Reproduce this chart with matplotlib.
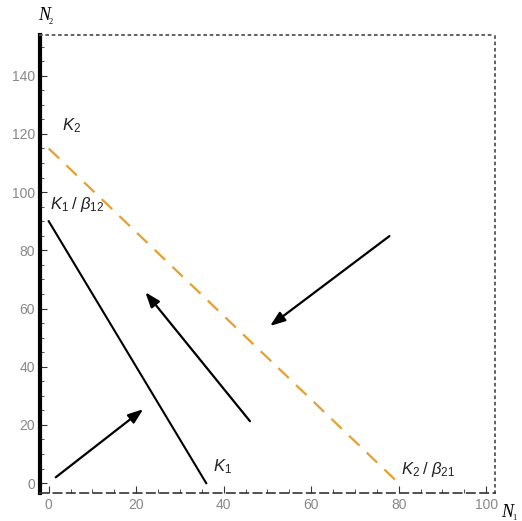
import matplotlib
matplotlib.use("Agg")
import matplotlib.pyplot as plt
from matplotlib.ticker import MultipleLocator

# isoclines
k1_x = [0, 36]
k1_y = [90, 0]
k2_x = [0, 80]
k2_y = [115, 0]

# arrows (start -> end)
arrow_start = [(1.6, 2), (46, 21.3), (77.9, 84.9)]
arrow_end = [(21.6, 25.4), (22.1, 65.6), (50.6, 54)]

labels = ["$K_2$", r"$K_1\;/\;\beta_{12}$", "$K_1$", r"$K_2\;/\;\beta_{21}$"]
label_pos = [(3, 119.5), (0.3, 92.5), (37.5, 2.5), (80.5, 1.5)]

plt.rcParams["font.family"] = ["Liberation Sans", "DejaVu Sans"]
plt.rcParams["mathtext.fontset"] = "custom"
plt.rcParams["mathtext.rm"] = "Liberation Sans"
plt.rcParams["mathtext.it"] = "Liberation Sans:italic"

fig = plt.figure(figsize=(5.22, 5.21), dpi=100)
ax = fig.add_axes([0.0766, 0.0537, 0.8714, 0.8791])

ax.plot(k1_x, k1_y, color="black", lw=1.5)
ax.plot(k2_x, k2_y, color="#E5A02E", lw=1.6, dashes=(6.5, 4.5))

for s, e in zip(arrow_start, arrow_end):
    ax.annotate("", xy=e, xytext=s,
                arrowprops=dict(arrowstyle="-|>,head_length=0.9,head_width=0.33",
                                color="black", lw=1.6, shrinkA=0, shrinkB=0))

for t, p in zip(labels, label_pos):
    ax.text(p[0], p[1], t, fontsize=12, color="#222222", ha="left", va="bottom")

ax.set_xlim(-2, 102)
ax.set_ylim(-3.4, 154)
ax.xaxis.set_major_locator(MultipleLocator(20))
ax.yaxis.set_major_locator(MultipleLocator(20))
ax.xaxis.set_minor_locator(MultipleLocator(5))
ax.yaxis.set_minor_locator(MultipleLocator(5))
ax.tick_params(which="both", direction="in", labelcolor="#888888", labelsize=10,
               top=False, right=False, color="#333333")
ax.tick_params(which="major", length=5)
ax.tick_params(which="minor", length=3)

ax.spines["left"].set_linewidth(3)
ax.spines["left"].set_color("black")
ax.spines["bottom"].set_linestyle((0, (5, 3)))
ax.spines["bottom"].set_color("#333333")
ax.spines["bottom"].set_linewidth(1.2)
for side in ["top", "right"]:
    ax.spines[side].set_linestyle((0, (1, 2.5)))
    ax.spines[side].set_color("#555555")
    ax.spines[side].set_linewidth(1.3)

# axis names, Times italic N with a tiny subscript
fig.text(0.085, 0.97, "N", fontsize=13, family="Liberation Serif", style="italic",
         ha="center", va="center")
fig.text(0.098, 0.958, "2", fontsize=6, family="Liberation Serif", ha="center", va="center")
fig.text(0.972, 0.017, "N", fontsize=13, family="Liberation Serif", style="italic",
         ha="center", va="center")
fig.text(0.985, 0.005, "1", fontsize=6, family="Liberation Serif", ha="center", va="center")

fig.savefig("out.png", dpi=100)
